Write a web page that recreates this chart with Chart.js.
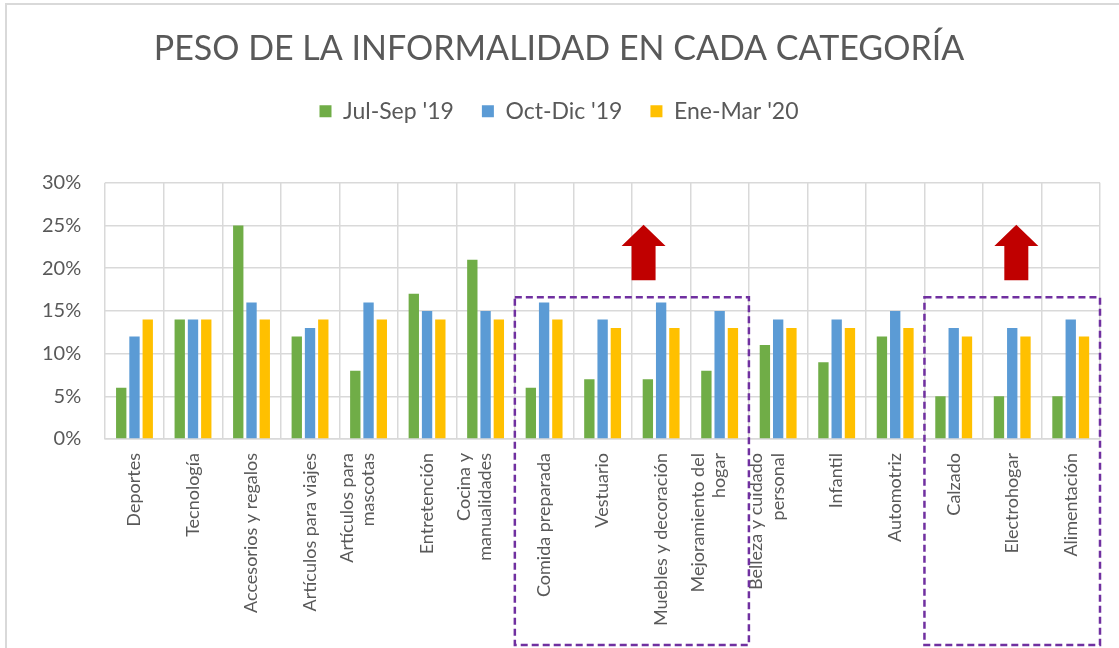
<!DOCTYPE html>
<html>
<head>
<meta charset="utf-8">
<script src="https://cdn.jsdelivr.net/npm/chart.js@4"></script>
<style>
  html, body { margin: 0; padding: 0; background: #fff; }
  #wrap { position: relative; width: 1119px; height: 648px; }
</style>
</head>
<body>
<div id="wrap"><canvas id="grafico" width="1119" height="648"></canvas></div>
<script>
// categorías y valores (%)
const categorias = [
    "Deportes", "Tecnología", "Accesorios y regalos", "Artículos para viajes",
    ["Artículos para", "mascotas"], "Entretención", ["Cocina y", "manualidades"],
    "Comida preparada", "Vestuario", "Muebles y decoración", ["Mejoramiento del", "hogar"],
    ["Belleza y cuidado", "personal"], "Infantil", "Automotriz",
    "Calzado", "Electrohogar", "Alimentación"
];
const julSep19 = [6, 14, 25, 12, 8, 17, 21, 6, 7, 7, 8, 11, 9, 12, 5, 5, 5];
const octDic19 = [12, 14, 16, 13, 16, 15, 15, 16, 14, 16, 15, 14, 14, 15, 13, 13, 14];
const eneMar20 = [14, 14, 14, 14, 14, 14, 14, 14, 13, 13, 13, 13, 13, 13, 12, 12, 12];
const ticksY = [0, 5, 10, 15, 20, 25, 30];

// grupos destacados (índices de categorías), nivel del recuadro y posición de las flechas
const grupos = [[7, 10], [14, 16]];
const topeRecuadro = 16.6;
const flechas = [8.7, 15.07];

const gris = "#595959";
const fuente = "Lato, 'Open Sans', sans-serif";
const tamEtiqueta = 18;

// borde, recuadros punteados y flechas
const decoracion = {
    id: "decoracion",
    afterUpdate(chart) {
        // centrar las etiquetas de varias líneas sobre su categoría
        const s = chart.scales.x;
        const alto = tamEtiqueta * 1.2;
        s.getLabelItems().forEach((item) => {
            if (Array.isArray(item.label)) {
                item.textOffset = -(item.label.length - 1) * alto / 2;
            }
        });
    },
    beforeDraw(chart) {
        const c = chart.ctx;
        c.save();
        c.strokeStyle = "#d9d9d9";
        c.lineWidth = 2;
        c.beginPath();
        c.moveTo(6, 648);
        c.lineTo(6, 4);
        c.lineTo(1119, 4);
        c.stroke();
        c.restore();
    },
    afterDraw(chart) {
        const c = chart.ctx;
        const x = chart.scales.x, y = chart.scales.y;
        const paso = x.getPixelForValue(1) - x.getPixelForValue(0);
        c.save();
        grupos.forEach(([a, b]) => {
            const x0 = x.getPixelForValue(a) - paso / 2;
            const x1 = x.getPixelForValue(b) + paso / 2;
            const y0 = y.getPixelForValue(topeRecuadro);
            const y1 = chart.height - 3;
            c.strokeStyle = "#7030a0";
            c.lineWidth = 2.5;
            c.setLineDash([7, 4]);
            c.strokeRect(x0, y0, x1 - x0, y1 - y0);
        });
        // flechas rojas hacia arriba
        c.setLineDash([]);
        c.fillStyle = "#c00000";
        flechas.forEach((pos) => {
            const cx = x.getPixelForValue(0) + pos * paso;
            const punta = y.getPixelForValue(25.1);
            const base = y.getPixelForValue(22.6);
            const fin = y.getPixelForValue(18.6);
            c.beginPath();
            c.moveTo(cx, punta);
            c.lineTo(cx + 22, base);
            c.lineTo(cx + 12, base);
            c.lineTo(cx + 12, fin);
            c.lineTo(cx - 12, fin);
            c.lineTo(cx - 12, base);
            c.lineTo(cx - 22, base);
            c.closePath();
            c.fill();
        });
        c.restore();
    }
};

// espacio extra bajo la leyenda
const espacioLeyenda = {
    id: "espacioLeyenda",
    beforeInit(chart) {
        const fitOriginal = chart.legend.fit;
        chart.legend.fit = function () {
            fitOriginal.bind(chart.legend)();
            this.height += 50;
        };
    }
};

new Chart(document.getElementById("grafico"), {
    type: "bar",
    data: {
        labels: categorias,
        datasets: [
            { label: "Jul-Sep '19", data: julSep19, backgroundColor: "#70ad47" },
            { label: "Oct-Dic '19", data: octDic19, backgroundColor: "#5b9bd5" },
            { label: "Ene-Mar '20", data: eneMar20, backgroundColor: "#ffc000" },
        ],
    },
    options: {
        responsive: false,
        animation: false,
        layout: { padding: { left: 18, right: 19, top: 8, bottom: 8 } },
        datasets: { bar: { categoryPercentage: 0.68, barPercentage: 0.78 } },
        plugins: {
            title: {
                display: true,
                text: "PESO DE LA INFORMALIDAD EN CADA CATEGORÍA",
                color: gris,
                font: { family: fuente, size: 34, weight: "normal" },
                padding: { top: 21, bottom: 2 },
            },
            legend: {
                position: "top",
                labels: {
                    color: gris,
                    font: { family: fuente, size: 23 },
                    boxWidth: 12,
                    boxHeight: 12,
                    padding: 28,
                },
            },
            tooltip: { enabled: false },
        },
        scales: {
            x: {
                grid: { color: "#d9d9d9", lineWidth: 1.5, offset: true, drawTicks: false },
                border: { color: "#d9d9d9", width: 1.5 },
                ticks: {
                    color: gris,
                    font: { family: fuente, size: tamEtiqueta },
                    minRotation: 90,
                    maxRotation: 90,
                    padding: 14,
                    autoSkip: false,
                },
            },
            y: {
                min: 0,
                max: 30,
                afterBuildTicks: (s) => { s.ticks = ticksY.map((v) => ({ value: v })); },
                grid: { color: "#d9d9d9", lineWidth: 1.5, drawTicks: false },
                border: { display: false },
                ticks: {
                    color: gris,
                    font: { family: fuente, size: 20 },
                    padding: 24,
                    callback: (v) => v + "%",
                },
            },
        },
    },
    plugins: [decoracion, espacioLeyenda],
});
</script>
</body>
</html>
